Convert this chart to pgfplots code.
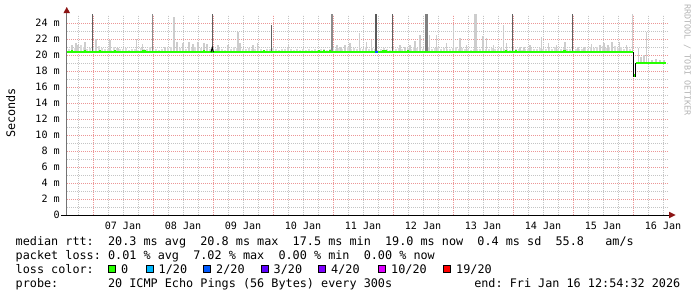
\documentclass[border=0pt]{standalone}
\usepackage{fontspec}
\setmainfont{DejaVu Sans Mono}
\usepackage{pgfplots}
\pgfplotsset{compat=1.18}
\usepackage{pgfplotstable}
\frenchspacing
\definecolor{loss0}{RGB}{38,255,0}
\definecolor{loss1}{RGB}{0,184,255}
\definecolor{loss2}{RGB}{0,89,255}
\definecolor{loss3}{RGB}{94,0,255}
\definecolor{loss4}{RGB}{126,0,255}
\definecolor{loss10}{RGB}{221,0,255}
\definecolor{loss19}{RGB}{255,0,0}
\definecolor{mgrid}{RGB}{236,150,150}
\definecolor{sgrid}{RGB}{196,196,196}
\definecolor{arrowred}{RGB}{140,20,20}
\definecolor{smoke}{RGB}{218,218,218}
\definecolor{smokemid}{RGB}{205,205,205}
\definecolor{wmark}{RGB}{180,180,180}

% hours since 07 Jan 00:00, upper value of smoke (ms)
\pgfplotstableread{
x t
-9.6 20.7
-8.4 20.6
-7.2 20.9
-6.0 21.1
-4.8 21.2
-3.6 21.0
-2.4 20.8
-1.2 20.9
0.0 21.0
1.2 20.8
2.4 21.1
3.6 20.9
4.8 20.7
6.0 20.8
7.2 20.6
8.4 21.0
9.6 20.9
10.8 20.8
12.0 20.7
13.2 20.9
14.4 20.6
15.6 20.8
16.8 20.7
18.0 20.6
19.2 20.9
20.4 20.8
21.6 20.7
22.8 21.0
24.0 20.8
25.2 20.7
26.4 20.6
27.6 20.8
28.8 20.7
30.0 20.9
31.2 21.0
32.4 20.8
33.6 21.1
34.8 20.9
36.0 21.0
37.2 20.8
38.4 21.1
39.6 20.9
40.8 21.0
42.0 21.2
43.2 20.9
44.4 21.1
45.6 21.0
46.8 20.8
48.0 20.9
49.2 20.7
50.4 20.9
51.6 20.8
52.8 20.6
54.0 20.9
55.2 20.8
56.4 21.0
57.6 20.9
58.8 21.1
60.0 20.8
61.2 20.7
62.4 20.9
63.6 20.8
64.8 20.7
66.0 21.0
67.2 20.8
68.4 20.6
69.6 20.7
70.8 20.8
72.0 20.9
73.2 20.7
74.4 20.6
75.6 20.7
76.8 20.8
78.0 20.9
79.2 20.7
80.4 20.6
81.6 20.7
82.8 20.6
84.0 20.7
85.2 20.6
86.4 20.7
87.6 20.6
88.8 20.7
90.0 20.6
91.2 20.8
92.4 20.7
93.6 20.6
94.8 20.8
96.0 20.9
97.2 20.8
98.4 20.9
99.6 20.7
100.8 20.9
102.0 21.0
103.2 20.8
104.4 20.9
105.6 20.7
106.8 20.9
108.0 20.8
109.2 21.0
110.4 20.8
111.6 20.9
112.8 20.7
114.0 20.6
115.2 20.7
116.4 20.9
117.6 20.8
118.8 20.6
120.0 20.7
121.2 20.8
122.4 20.9
123.6 20.8
124.8 20.7
126.0 20.9
127.2 20.8
128.4 21.0
129.6 20.9
130.8 20.8
132.0 20.7
133.2 20.8
134.4 21.0
135.6 20.8
136.8 20.9
138.0 21.0
139.2 20.8
140.4 20.9
141.6 20.7
142.8 20.8
144.0 20.9
145.2 21.0
146.4 20.8
147.6 20.9
148.8 20.7
150.0 20.8
151.2 20.6
152.4 20.7
153.6 20.8
154.8 20.7
156.0 20.9
157.2 20.8
158.4 20.7
159.6 20.9
160.8 20.8
162.0 20.7
163.2 20.9
164.4 20.8
165.6 20.7
166.8 20.6
168.0 20.7
169.2 20.8
170.4 20.7
171.6 20.6
172.8 20.8
174.0 20.7
175.2 20.9
176.4 20.7
177.6 20.8
178.8 20.9
180.0 20.8
181.2 20.7
182.4 20.9
183.6 20.8
184.8 21.0
186.0 20.8
187.2 20.7
188.4 20.9
189.6 20.8
190.8 20.7
192.0 20.6
193.2 20.7
194.4 20.8
195.6 20.7
196.8 20.9
198.0 20.8
199.2 21.0
200.4 20.9
201.6 21.0
202.8 20.8
204.0 21.1
205.2 20.9
206.4 21.0
207.6 20.8
208.8 21.1
210.0 20.9
211.2 21.0
212.4 20.8
213.6 20.9
214.8 20.8
}\noise

\pgfplotstableread{
x t
-8.4 21.3
-6.8 21.5
-6.0 21.3
-3.2 21.6
1.2 22.0
6.8 21.9
10.0 20.9
17.5 22.0
19.9 21.4
23.9 22.7
28.8 21.0
32.4 24.8
33.6 21.6
36.0 21.5
38.4 21.6
40.0 21.4
42.0 21.6
44.4 21.5
45.6 21.4
50.0 21.3
54.0 21.2
58.0 22.9
58.8 21.5
64.0 21.2
65.9 21.5
78.1 21.4
97.6 21.2
99.2 21.0
100.8 21.2
102.8 21.5
106.5 22.7
109.5 21.6
111.5 21.9
122.8 21.2
124.8 21.0
126.8 21.2
128.8 21.7
130.8 22.5
134.5 22.5
137.5 22.5
141.5 21.5
144.1 23.75
146.8 22.1
149.5 21.2
152.8 25.5
153.2 25.5
156.0 22.4
157.5 22.1
160.1 21.3
164.1 23.8
165.5 21.5
170.8 21.0
172.4 21.0
174.8 21.3
179.5 22.3
182.1 21.5
185.5 21.3
188.8 21.6
194.0 21.0
196.4 21.0
199.5 21.4
202.8 21.3
204.4 21.5
206.0 21.2
207.6 21.6
210.5 21.6
213.5 21.3
215.9 25.5
}\spikes

\pgfplotstableread{
x t
218.1 20.9
219.2 19.8
220.4 20.0
221.5 22.9
222.1 19.6
223.6 19.4
225.2 19.5
226.8 19.4
228.4 19.4
}\lowsmoke

\pgfplotstableread{
x t
-0.2 25.5
47.8 25.5
71.5 23.75
119.7 25.5
167.9 25.5
191.8 25.5
}\darkspikes

\pgfplotstableread{
x t
23.8 25.5
95.6 25.5
}\midspikes

\pgfplotstableread{
x0 x1
-8.8 -8.0
-3.6 -2.8
2.4 3.2
8.4 9.2
19.6 21.2
44.0 44.8
68.0 68.8
90.0 90.8
92.0 92.8
94.4 95.2
115.6 117.6
125.6 126.4
164.8 165.6
168.8 169.6
188.0 189.2
}\bumps

\begin{document}
\begin{tikzpicture}[x=1bp,y=1bp]
\path[use as bounding box] (-67,-82) rectangle (630,215);
\begin{axis}[
  at={(0,0)}, anchor=south west,
  scale only axis, width=601bp, height=200bp,
  xmin=-10.4, xmax=230, ymin=0, ymax=25,
  axis line style={draw=none},
  major tick length=0pt, minor tick length=0pt,
  xtick={12,36,...,228},
  xticklabels={07 Jan,08 Jan,09 Jan,10 Jan,11 Jan,12 Jan,13 Jan,14 Jan,15 Jan,16 Jan},
  xmajorgrids=false,
  extra x ticks={0,24,...,216},
  extra x tick labels={},
  extra x tick style={grid=major},
  minor xtick={-6,6,12,18,30,36,42,54,60,66,78,84,90,102,108,114,126,132,138,150,156,162,174,180,186,198,204,210,222,228},
  xminorgrids=true,
  ytick={0,2,...,24},
  yticklabels={0,2 m,4 m,6 m,8 m,10 m,12 m,14 m,16 m,18 m,20 m,22 m,24 m},
  minor ytick={1,3,...,23},
  ymajorgrids=true, yminorgrids=true,
  major grid style={mgrid, dash pattern=on 1bp off 1bp, line width=0.8bp},
  minor grid style={sgrid, dash pattern=on 1bp off 1bp, line width=0.8bp},
  xticklabel style={font=\fontsize{10.1bp}{12bp}\selectfont, anchor=base, inner sep=0pt, yshift=-14.5bp},
  yticklabel style={font=\fontsize{10.1bp}{12bp}\selectfont, anchor=east, inner sep=0pt, xshift=-7bp},
]
% smoke
\addplot[-, draw=smoke, line width=1.3bp, no marks, quiver={u=0, v=\thisrow{t}-20.35}] table[x=x, y expr=20.35] {\noise};
\addplot[-, draw=smokemid, line width=1.1bp, no marks, quiver={u=0, v=\thisrow{t}-20.35}] table[x=x, y expr=20.35] {\spikes};
\addplot[-, draw=smokemid, line width=1.1bp, no marks, quiver={u=0, v=\thisrow{t}-19.0}] table[x=x, y expr=19.0] {\lowsmoke};
\addplot[-, draw=black!45, line width=1.1bp, no marks, quiver={u=0, v=\thisrow{t}-20.35}] table[x=x, y expr=20.35] {\midspikes};
\addplot[-, draw=black!62, line width=1.1bp, no marks, quiver={u=0, v=\thisrow{t}-20.35}] table[x=x, y expr=20.35] {\darkspikes};
\addplot[-, draw=black!65, line width=2.2bp, no marks] coordinates {(113.3,20.35) (113.3,25.5)};
\addplot[-, draw=black!50, line width=3bp, no marks] coordinates {(133.2,20.35) (133.2,25.5)};
% median
\addplot[loss0, line width=2.2bp, no marks] coordinates {(-10.4,20.35) (216.0,20.35)};
\addplot[-, loss0, line width=2.4bp, no marks, quiver={u=\thisrow{x1}-\thisrow{x0}, v=0}] table[x=x0, y expr=20.5] {\bumps};
\addplot[loss2, line width=2.2bp, no marks] coordinates {(112.8,20.35) (113.8,20.35)};
\addplot[black, line width=0.9bp, no marks] coordinates {(47.2,20.35) (47.7,20.95) (48.2,20.35)};
\addplot[loss0, line width=2.2bp, no marks] coordinates {(215.9,17.45) (217.1,17.45)};
\addplot[black, line width=1bp, no marks] coordinates {(216.0,20.35) (216.0,17.3)};
\addplot[black, line width=1bp, no marks] coordinates {(217.0,17.3) (217.0,19.0)};
\addplot[loss0, line width=2.2bp, no marks] coordinates {(217.2,19.0) (229.0,19.0)};
\end{axis}
% axis lines and arrows
\draw[black!55, line width=1bp] (-0.5,0) -- (-0.5,203);
\draw[black, line width=1bp] (-6,0) -- (603,0);
\fill[arrowred] (-3.5,202) -- (3,202) -- (-0.25,208) -- cycle;
\fill[arrowred] (602,-3.25) -- (602,3.25) -- (608.5,0) -- cycle;
% labels
\node[rotate=90, anchor=base, font=\fontsize{11.8bp}{14bp}\selectfont] at (-52,102) {Seconds};
\node[rotate=-90, anchor=base, text=wmark, font=\fontsize{8.4bp}{10bp}\selectfont] at (617.5,155) {RRDTOOL~/~TOBI~OETIKER};
\begin{scope}[every node/.style={anchor=base west, inner sep=0pt, font=\fontsize{11.8bp}{14bp}\selectfont}]
\node at (-51.5,-30.5) {median~rtt:~~20.3~ms~avg~~20.8~ms~max~~17.5~ms~min~~19.0~ms~now~~0.4~ms~sd~~55.8~~~am/s};
\node at (-51.5,-44.5) {packet~loss:~0.01~\%~avg~~7.02~\%~max~~0.00~\%~min~~0.00~\%~now};
\node at (-51.5,-58) {loss~color:};
\node at (54,-58) {0};
\node at (91.5,-58) {1/20};
\node at (149,-58) {2/20};
\node at (206.5,-58) {3/20};
\node at (264,-58) {4/20};
\node at (324,-58) {10/20};
\node at (389,-58) {19/20};
\node at (-51.5,-72) {probe:~~~~~~~20~ICMP~Echo~Pings~(56~Bytes)~every~300s};
\node[anchor=base east] at (613.5,-72) {end:~Fri~Jan~16~12:54:32~2026};
\end{scope}
\draw[black, line width=0.8bp, fill=loss0]  (41.5,-57.5) rectangle (48.5,-50.5);
\draw[black, line width=0.8bp, fill=loss1]  (79.2,-57.5) rectangle (86.2,-50.5);
\draw[black, line width=0.8bp, fill=loss2]  (136.2,-57.5) rectangle (143.2,-50.5);
\draw[black, line width=0.8bp, fill=loss3]  (193.9,-57.5) rectangle (200.9,-50.5);
\draw[black, line width=0.8bp, fill=loss4]  (251.5,-57.5) rectangle (258.5,-50.5);
\draw[black, line width=0.8bp, fill=loss10] (310.9,-57.5) rectangle (317.9,-50.5);
\draw[black, line width=0.8bp, fill=loss19] (376.5,-57.5) rectangle (383.5,-50.5);
\end{tikzpicture}
\end{document}
